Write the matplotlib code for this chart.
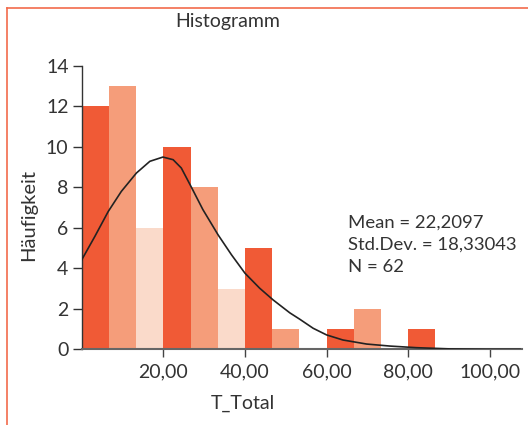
import numpy as np
import matplotlib.pyplot as plt
from matplotlib.lines import Line2D

plt.rcParams['font.family'] = ['Lato', 'DejaVu Sans']

# histogram of T_Total
bin_start = 0.0
bin_width = 20.0 / 3.0
counts = [12, 13, 6, 10, 8, 3, 5, 1, 0, 1, 2, 0, 1]
bar_colors = ['#F05A36', '#F59D7A', '#FADACA']

# fitted curve
curve_x = [0.0, 3.2, 6.5, 9.7, 13.4, 16.7, 19.9, 22.4, 24.4, 26.9, 29.7, 33.4,
           36.7, 40.0, 43.6, 46.9, 51.0, 53.4, 56.7, 60.0, 64.0, 69.8, 75.5,
           82.0, 90.2, 99.2, 107.4]
curve_y = [4.42, 5.57, 6.81, 7.80, 8.71, 9.29, 9.50, 9.37, 8.96, 8.0, 6.90, 5.66,
           4.67, 3.76, 3.02, 2.44, 1.80, 1.49, 1.04, 0.71, 0.46, 0.26, 0.16,
           0.08, 0.02, 0.0, 0.0]

xticks = [20, 40, 60, 80, 100]
xtick_labels = ['20,00', '40,00', '60,00', '80,00', '100,00']
yticks = [0, 2, 4, 6, 8, 10, 12, 14]

stats_lines = ['Mean = 22,2097', 'Std.Dev. = 18,33043', 'N = 62']

txt = '#333333'
fs = 14
fig = plt.figure(figsize=(5.28, 4.25), dpi=100)
ax = fig.add_axes([81.7 / 528, 75.7 / 425, 440 / 528, 283.3 / 425])

lefts = bin_start + bin_width * np.arange(len(counts))
cols = [bar_colors[i % 3] for i in range(len(counts))]
ax.bar(lefts, counts, width=bin_width, align='edge', color=cols, linewidth=0, zorder=2)
ax.plot(curve_x, curve_y, color='#222222', lw=1.2, zorder=3)

ax.set_xlim(0, 107.8)
ax.set_ylim(0, 14)
ax.set_xticks(xticks, labels=xtick_labels)
ax.set_yticks(yticks)
for s in ['top', 'right']:
    ax.spines[s].set_visible(False)
ax.spines['left'].set_color('#333333')
ax.spines['left'].set_linewidth(1.0)
ax.spines['bottom'].set_color('#666666')
ax.spines['bottom'].set_linewidth(1.5)
ax.tick_params(axis='y', length=6.5, width=1.0, color='#333333', labelsize=fs,
               labelcolor=txt, pad=3)
ax.tick_params(axis='x', length=6, width=1.0, color='#444444', labelsize=fs,
               labelcolor=txt, pad=4)

fig.text(228 / 528, 1 - 21 / 425, 'Histogramm', ha='center', va='center',
         fontsize=fs, color=txt)
fig.text(29 / 528, 1 - 215 / 425, 'Häufigkeit', ha='center', va='center',
         rotation=90, fontsize=fs + 0.5, color=txt)
fig.text(242.7 / 528, 1 - 403 / 425, 'T_Total', ha='center', va='center',
         fontsize=fs, color=txt)
for i, line in enumerate(stats_lines):
    fig.text(348 / 528, 1 - (222.7 + 22.3 * i) / 425, line, ha='left', va='center',
             fontsize=13.3, color=txt)

# frame around the figure (only top and left are visible in the crop)
fig.add_artist(Line2D([7 / 528, 1.0], [1 - 8 / 425, 1 - 8 / 425],
                      transform=fig.transFigure, color='#F26B4B', lw=1.2))
fig.add_artist(Line2D([7 / 528, 7 / 528], [0.0, 1 - 8 / 425],
                      transform=fig.transFigure, color='#F26B4B', lw=1.2))

fig.savefig('out.png', dpi=100)
